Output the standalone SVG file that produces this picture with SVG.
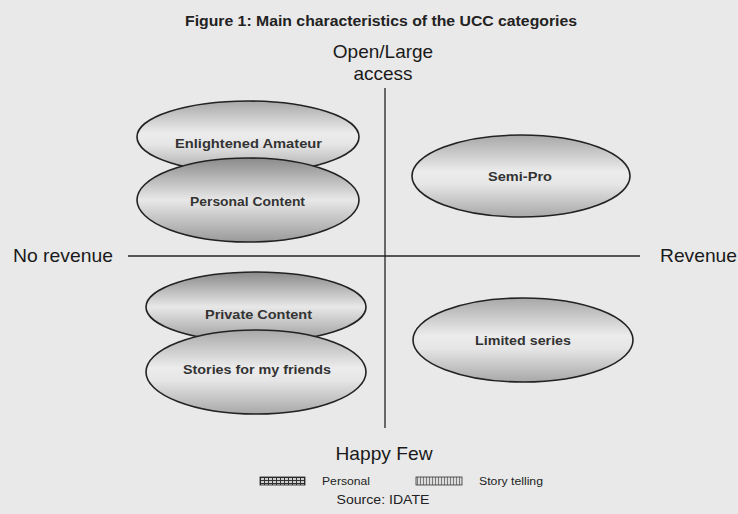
<svg xmlns="http://www.w3.org/2000/svg" width="738" height="514" viewBox="0 0 738 514">
<defs>
<linearGradient id="g1" x1="0" y1="0" x2="0" y2="1">
<stop offset="0" stop-color="#a8a8a8"/>
<stop offset="0.45" stop-color="#ececec"/>
<stop offset="0.6" stop-color="#e6e6e6"/>
<stop offset="1" stop-color="#a8a8a8"/>
</linearGradient>
<linearGradient id="g2" x1="0" y1="0" x2="0" y2="1">
<stop offset="0" stop-color="#8a8a8a"/>
<stop offset="0.5" stop-color="#e8e8e8"/>
<stop offset="1" stop-color="#9a9a9a"/>
</linearGradient>
<pattern id="hatch" width="4" height="3" patternUnits="userSpaceOnUse">
<rect width="4" height="3" fill="#cfcfcf"/>
<rect width="1" height="3" fill="#333"/>
<rect width="4" height="1" fill="#333"/>
</pattern>
<pattern id="hatch2" width="3" height="3" patternUnits="userSpaceOnUse">
<rect width="3" height="3" fill="#dcdcdc"/>
<rect width="1" height="3" fill="#7a7a7a"/>
</pattern>
</defs>
<style>
.t{font-family:"Liberation Sans",Arial,sans-serif;fill:#222}
.n{font-size:13px;font-weight:bold;text-anchor:middle;fill:#333}
.ax{font-size:19px;fill:#1a1a1a}
.e{stroke:#222;stroke-width:1.6}
.l{stroke:#222;stroke-width:1.3}
.lg{font-size:10px}
</style>
<rect width="738" height="514" fill="#e9e9e9"/>
<text class="t" x="381" y="26" text-anchor="middle" font-size="14" font-weight="bold" textLength="392" lengthAdjust="spacingAndGlyphs">Figure 1: Main characteristics of the UCC categories</text>
<text class="t ax" x="383" y="58" text-anchor="middle">Open/Large</text>
<text class="t ax" x="383" y="80" text-anchor="middle">access</text>
<g id="axes">
<line class="l" x1="128" y1="256" x2="640" y2="256"/>
<line class="l" x1="385" y1="88" x2="385" y2="428"/>
</g>
<text class="t ax" x="13" y="262" textLength="100" lengthAdjust="spacingAndGlyphs">No revenue</text>
<text class="t ax" x="660" y="262" textLength="77" lengthAdjust="spacingAndGlyphs">Revenue</text>
<text class="t ax" x="384" y="460" text-anchor="middle" textLength="97" lengthAdjust="spacingAndGlyphs">Happy Few</text>
<g id="enlightened">
<ellipse class="e" cx="248" cy="137" rx="111" ry="36" fill="url(#g1)"/>
<text class="t n" x="248.5" y="148" textLength="147" lengthAdjust="spacingAndGlyphs">Enlightened Amateur</text>
</g>
<g id="personal-content">
<ellipse class="e" cx="248" cy="200" rx="111" ry="42" fill="url(#g2)"/>
<text class="t n" x="247.5" y="206" textLength="115" lengthAdjust="spacingAndGlyphs">Personal Content</text>
</g>
<g id="semi-pro">
<ellipse class="e" cx="521" cy="176" rx="109" ry="41" fill="url(#g1)"/>
<text class="t n" x="520" y="181" textLength="64" lengthAdjust="spacingAndGlyphs">Semi-Pro</text>
</g>
<g id="private-content">
<ellipse class="e" cx="256" cy="307" rx="110" ry="35" fill="url(#g2)"/>
<text class="t n" x="258.5" y="319" textLength="107" lengthAdjust="spacingAndGlyphs">Private Content</text>
</g>
<g id="stories">
<ellipse class="e" cx="256" cy="372" rx="110" ry="42" fill="url(#g1)"/>
<text class="t n" x="257" y="374" textLength="148" lengthAdjust="spacingAndGlyphs">Stories for my friends</text>
</g>
<g id="limited-series">
<ellipse class="e" cx="523" cy="340" rx="110" ry="42" fill="url(#g1)"/>
<text class="t n" x="523" y="345" textLength="96" lengthAdjust="spacingAndGlyphs">Limited series</text>
</g>
<g id="legend">
<rect x="260" y="477" width="45" height="8" fill="url(#hatch)" stroke="#222" stroke-width="0.8"/>
<text class="t lg" x="322" y="485" textLength="48" lengthAdjust="spacingAndGlyphs">Personal</text>
<rect x="416" y="477" width="46" height="8" fill="url(#hatch2)" stroke="#333" stroke-width="0.8"/>
<text class="t lg" x="479" y="485" textLength="64" lengthAdjust="spacingAndGlyphs">Story telling</text>
</g>
<text class="t" x="383" y="504" text-anchor="middle" font-size="12" textLength="93" lengthAdjust="spacingAndGlyphs">Source: IDATE</text>
</svg>
